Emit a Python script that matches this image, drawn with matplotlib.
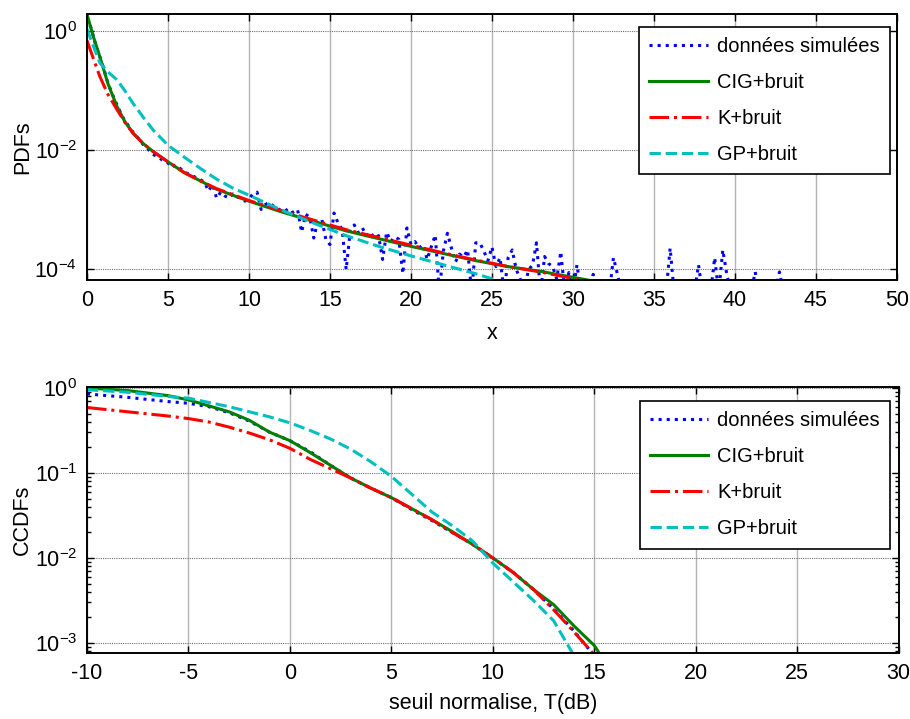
import numpy as np
import matplotlib
matplotlib.use("Agg")
import matplotlib.pyplot as plt
from matplotlib.ticker import FixedLocator, NullLocator, LogLocator, LogFormatterSciNotation

plt.rcParams["font.family"] = ["Liberation Sans", "DejaVu Sans"]
plt.rcParams["mathtext.fontset"] = "custom"
plt.rcParams["mathtext.rm"] = "Liberation Sans"
plt.rcParams["mathtext.it"] = "Liberation Sans:italic"
plt.rcParams["mathtext.bf"] = "Liberation Sans:bold"
plt.rcParams["axes.unicode_minus"] = False

FS = 15.5
LEG_FS = 14.5
LABELS = ["données simulées", "CIG+bruit", "K+bruit", "GP+bruit"]
COLORS = ["#0000ff", "#008000", "#ff0000", "#00bfbf"]
STYLES = [":", "-", "-.", "--"]

# ---- PDFs (log10 of the density) ----
pdf_x = [0, 0.4, 0.8, 1.3, 1.85, 2.35, 2.85, 3.5, 4.1, 5, 6, 7, 8, 9, 10, 12, 14, 16,
         18, 20, 22, 24, 26, 28, 30, 31, 32]
pdf_cig = [0.28, -0.10, -0.44, -0.89, -1.27, -1.53, -1.72, -1.90, -2.03, -2.20, -2.38,
           -2.52, -2.66, -2.76, -2.86, -3.04, -3.20, -3.36, -3.49, -3.62, -3.74, -3.86,
           -3.96, -4.04, -4.14, -4.19, -4.30]
pdf_k = [-0.16, -0.47, -0.77, -1.07, -1.32, -1.54, -1.72, -1.90, -2.03, -2.20, -2.38,
         -2.52, -2.65, -2.75, -2.85, -3.02, -3.18, -3.34, -3.47, -3.60, -3.73, -3.85,
         -3.96, -4.05, -4.16, -4.25, -4.35]
pdf_gp = [0.03, -0.26, -0.54, -0.69, -0.82, -1.01, -1.22, -1.46, -1.67, -1.92, -2.12,
          -2.31, -2.49, -2.64, -2.76, -3.01, -3.23, -3.44, -3.62, -3.78, -3.93, -4.08,
          -4.25, -4.45, -4.60, -4.70, -4.80]

# histogram of the simulated data, bins of 0.25 from 0 to 46 (empty bins -> -4.4)
sim_x = np.arange(0, 46.01, 0.25)
sim_pdf = [
    # 0 .. 4.75
    0.22, 0.05, -0.20, -0.40, -0.60, -0.84, -1.02, -1.18, -1.33, -1.47,
    -1.57, -1.67, -1.75, -1.83, -1.92, -1.98, -2.06, -2.10, -2.14, -2.19,
    # 5 .. 9.75
    -2.22, -2.29, -2.25, -2.31, -2.37, -2.40, -2.43, -2.47, -2.50, -2.54,
    -2.69, -2.58, -2.81, -2.71, -2.77, -2.81, -2.74, -2.79, -2.81, -2.86,
    # 10 .. 14.75
    -2.83, -2.73, -2.71, -3.00, -2.92, -2.88, -2.94, -2.98, -3.02, -2.99,
    -3.07, -3.04, -3.00, -3.38, -3.08, -3.13, -3.48, -3.19, -3.17, -3.51,
    # 15 .. 19.75
    -3.59, -3.06, -3.23, -3.33, -4.01, -3.36, -3.26, -3.39, -3.31, -3.44,
    -3.38, -3.49, -3.44, -3.84, -3.38, -3.54, -3.46, -3.50, -4.08, -3.31,
    # 20 .. 24.75
    -3.59, -3.54, -3.65, -3.59, -3.84, -3.63, -3.43, -4.40, -3.70, -3.40,
    -3.65, -3.88, -3.75, -3.80, -3.68, -4.40, -3.56, -3.56, -3.70, -3.86,
    # 25 .. 29.75
    -3.63, -3.96, -3.81, -4.40, -3.81, -3.68, -4.01, -4.17, -4.40, -4.01,
    -3.94, -3.56, -4.40, -3.79, -3.91, -3.96, -4.17, -3.71, -4.40, -4.06,
    # 30 .. 34.75
    -4.40, -3.93, -4.40, -4.40, -4.40, -4.09, -4.40, -4.40, -4.40, -4.40,
    -3.81, -4.09, -4.40, -4.40, -4.40, -4.40, -4.40, -4.17, -4.40, -4.40,
    # 35 .. 39.75
    -4.40, -4.40, -4.40, -4.40, -3.65, -4.40, -4.40, -4.40, -4.40, -4.40,
    -4.40, -3.93, -4.40, -4.40, -4.40, -3.81, -4.40, -3.68, -4.09, -4.40,
    # 40 .. 44.75
    -4.40, -4.40, -4.40, -4.40, -4.40, -4.05, -4.40, -4.40, -4.40, -4.40,
    -4.40, -4.05, -4.40, -4.40, -4.40, -4.17, -4.40, -4.40, -4.40, -4.40,
    # 45 .. 46
    -4.17, -4.40, -4.40, -4.40, -4.17,
]

# ---- CCDFs (log10 of the exceedance probability) vs threshold in dB ----
ccdf_t = [-10, -8, -6, -5, -4, -3, -2, -1, 0, 1, 2, 3, 4, 5, 6, 7, 8, 9, 10, 11, 12,
          13, 14, 15, 16]
ccdf_sim = [-0.07, -0.11, -0.16, -0.18, -0.22, -0.29, -0.39, -0.52, -0.62, -0.75, -0.91,
            -1.06, -1.18, -1.29, -1.43, -1.56, -1.70, -1.84, -2.00, -2.17, -2.37,
            -2.60, -2.86, -3.15, -3.50]
ccdf_cig = [0.0, -0.03, -0.09, -0.14, -0.21, -0.28, -0.38, -0.52, -0.62, -0.76, -0.91,
            -1.06, -1.18, -1.29, -1.42, -1.55, -1.69, -1.84, -2.00, -2.17, -2.37,
            -2.55, -2.80, -3.03, -3.40]
ccdf_k = [-0.23, -0.28, -0.33, -0.36, -0.40, -0.46, -0.53, -0.61, -0.71, -0.84, -0.95,
          -1.06, -1.18, -1.29, -1.42, -1.55, -1.70, -1.84, -2.00, -2.17, -2.37,
          -2.61, -2.87, -3.14, -3.50]
ccdf_gp = [-0.02, -0.05, -0.10, -0.12, -0.17, -0.22, -0.28, -0.34, -0.41, -0.50, -0.60,
           -0.72, -0.87, -1.04, -1.25, -1.46, -1.62, -1.80, -2.06, -2.28, -2.50,
           -2.74, -3.15, -3.60, -4.00]


def style_axes(ax):
    ax.set_facecolor("white")
    ax.tick_params(which="both", direction="in", top=True, right=True,
                   labelsize=FS, width=1.0, pad=7)
    ax.tick_params(which="major", length=5)
    ax.tick_params(which="minor", length=3)
    for sp in ax.spines.values():
        sp.set_linewidth(1.4)
        sp.set_color("black")
    ax.xaxis.grid(True, color="#b4b4b4", lw=1.0, ls="-")
    ax.yaxis.grid(True, which="major", color="#707070", lw=0.8, ls=(0, (1, 1)))
    ax.set_axisbelow(True)


def add_legend(ax, anchor):
    leg = ax.legend(loc="upper right", bbox_to_anchor=anchor, fontsize=LEG_FS,
                    fancybox=False, framealpha=1, edgecolor="black",
                    handlelength=2.9, handletextpad=0.45, labelspacing=0.85,
                    borderpad=0.5, borderaxespad=0)
    leg.get_frame().set_linewidth(1.2)


fig = plt.figure(figsize=(9.10, 7.19), dpi=100)
ax1 = fig.add_axes([0.0956, 0.6106, 0.890, 0.370])
ax2 = fig.add_axes([0.0956, 0.0918, 0.892, 0.3700])

# top panel
pdf_series = [(sim_x, sim_pdf), (pdf_x, pdf_cig), (pdf_x, pdf_k), (pdf_x, pdf_gp)]
for (xs, ys), c, s, lab in zip(pdf_series, COLORS, STYLES, LABELS):
    ax1.semilogy(xs, 10.0 ** np.asarray(ys), color=c, ls=s, lw=2.2, label=lab)
ax1.set_xlim(0, 50)
ax1.set_ylim(10 ** -4.185, 10 ** 0.286)
ax1.set_xticks(np.arange(0, 51, 5))
ax1.yaxis.set_major_locator(FixedLocator([1e-4, 1e-2, 1e0]))
ax1.yaxis.set_major_formatter(LogFormatterSciNotation())
ax1.yaxis.set_minor_locator(NullLocator())
style_axes(ax1)
ax1.set_xlabel("x", fontsize=FS, va="center")
ax1.xaxis.set_label_coords(0.5, -0.20)
ax1.set_ylabel("PDFs", fontsize=FS, va="center")
ax1.yaxis.set_label_coords(-0.079, 0.5)
add_legend(ax1, (0.991, 0.951))

# bottom panel
ccdf_series = [ccdf_sim, ccdf_cig, ccdf_k, ccdf_gp]
for ys, c, s, lab in zip(ccdf_series, COLORS, STYLES, LABELS):
    ax2.semilogy(ccdf_t, 10.0 ** np.asarray(ys), color=c, ls=s, lw=2.2, label=lab)
ax2.set_xlim(-10, 30)
ax2.set_ylim(10 ** -3.118, 10 ** 0.012)
ax2.set_xticks(np.arange(-10, 31, 5))
ax2.yaxis.set_major_locator(FixedLocator([1e-3, 1e-2, 1e-1, 1e0]))
ax2.yaxis.set_major_formatter(LogFormatterSciNotation())
ax2.yaxis.set_minor_locator(LogLocator(base=10, subs=np.arange(2, 10)))
style_axes(ax2)
ax2.set_xlabel("seuil normalise, T(dB)", fontsize=FS, va="center")
ax2.xaxis.set_label_coords(0.5, -0.188)
ax2.set_ylabel("CCDFs", fontsize=FS, va="center")
ax2.yaxis.set_label_coords(-0.079, 0.5)
add_legend(ax2, (0.989, 0.947))

fig.savefig("out.png", dpi=100, facecolor="white")
